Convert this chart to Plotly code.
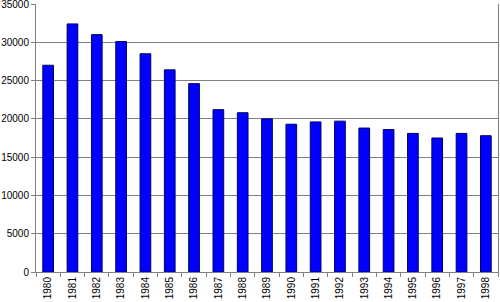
import plotly.graph_objects as go

years = [str(y) for y in range(1980, 1999)]
values = [27000, 32400, 31000, 30100, 28500, 26400, 24600, 21200, 20800, 20000,
          19300, 19600, 19700, 18800, 18600, 18100, 17500, 18100, 17800]
y_ticks = [0, 5000, 10000, 15000, 20000, 25000, 30000, 35000]

fig = go.Figure(go.Bar(
    x=years, y=values,
    marker=dict(color="#0000FF", line=dict(color="#000066", width=1)),
    width=0.44,
))

fig.update_layout(
    width=500, height=302,
    margin=dict(l=36, r=2, t=4, b=30),
    paper_bgcolor="white", plot_bgcolor="white",
    showlegend=False,
    font=dict(family="Liberation Sans, Arial", size=10, color="black"),
)
fig.update_xaxes(
    type="category", tickangle=-90, tickfont=dict(size=10),
    showline=True, linecolor="#808080", linewidth=1,
    ticks="outside", tickson="boundaries", ticklen=4, tickcolor="#808080",
    showgrid=False, ticklabeloverflow="allow", automargin=False,
)
fig.update_yaxes(
    range=[0, 35000], tickvals=y_ticks, ticktext=[str(v) for v in y_ticks],
    showline=True, linecolor="#808080", linewidth=1, mirror=True,
    ticks="outside", ticklen=4, tickcolor="#808080",
    showgrid=True, gridcolor="#808080", gridwidth=1,
    zeroline=False, tickfont=dict(size=10), ticklabeloverflow="allow",
    automargin=False,
)
fig.write_html("out.html")
